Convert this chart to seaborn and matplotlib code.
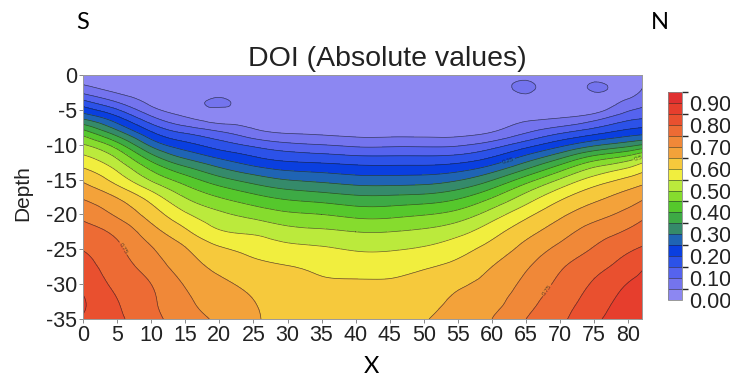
import numpy as np
import matplotlib
matplotlib.use("Agg")
import matplotlib.pyplot as plt
import matplotlib.tri as mtri
from matplotlib.colors import ListedColormap, BoundaryNorm
import seaborn as sns

sns.set_theme(style="white")
plt.rcParams['font.family'] = ['Liberation Sans', 'DejaVu Sans']
plt.rcParams['axes.unicode_minus'] = False

# ---- data -----------------------------------------------------------------
x_positions = [0, 5, 10, 15, 20, 25, 30, 35, 40, 45, 50, 55, 60, 65, 70, 75, 80, 82]
depths = [0, -2, -4, -6, -8, -10, -12, -14, -16, -18, -20, -22.5, -25, -27.5, -30, -32.5, -35]

# DOI values down each column (depth 0 -> -35)
doi_x0 = [0.02, 0.07, 0.172, 0.28, 0.41, 0.503, 0.565, 0.618, 0.663, 0.703, 0.737, 0.769, 0.798, 0.82, 0.838, 0.855, 0.845]
doi_x5 = [0.02, 0.035, 0.105, 0.205, 0.306, 0.42, 0.50, 0.555, 0.606, 0.658, 0.692, 0.737, 0.76, 0.774, 0.789, 0.802, 0.81]
doi_x10 = [0.01, 0.02, 0.04, 0.105, 0.195, 0.286, 0.382, 0.46, 0.528, 0.589, 0.628, 0.671, 0.705, 0.727, 0.75, 0.758, 0.765]
doi_x15 = [0.01, 0.015, 0.025, 0.05, 0.133, 0.217, 0.30, 0.387, 0.456, 0.51, 0.558, 0.61, 0.654, 0.675, 0.696, 0.711, 0.725]
doi_x20 = [0.01, 0.015, 0.058, 0.03, 0.096, 0.173, 0.25, 0.329, 0.403, 0.462, 0.511, 0.556, 0.608, 0.638, 0.66, 0.675, 0.69]
doi_x25 = [0.01, 0.012, 0.02, 0.03, 0.058, 0.138, 0.211, 0.288, 0.364, 0.429, 0.484, 0.541, 0.585, 0.614, 0.637, 0.651, 0.656]
doi_x30 = [0.01, 0.01, 0.015, 0.025, 0.04, 0.112, 0.186, 0.261, 0.335, 0.403, 0.46, 0.519, 0.566, 0.602, 0.617, 0.627, 0.635]
doi_x35 = [0.01, 0.01, 0.012, 0.02, 0.035, 0.10, 0.177, 0.25, 0.321, 0.39, 0.45, 0.51, 0.557, 0.59, 0.605, 0.615, 0.625]
doi_x40 = [0.01, 0.01, 0.012, 0.018, 0.03, 0.088, 0.167, 0.238, 0.307, 0.375, 0.435, 0.50, 0.546, 0.583, 0.604, 0.612, 0.62]
doi_x45 = [0.01, 0.01, 0.012, 0.018, 0.03, 0.088, 0.165, 0.236, 0.305, 0.375, 0.435, 0.50, 0.546, 0.583, 0.605, 0.615, 0.625]
doi_x50 = [0.01, 0.01, 0.012, 0.02, 0.03, 0.088, 0.165, 0.238, 0.31, 0.383, 0.447, 0.51, 0.557, 0.595, 0.617, 0.632, 0.645]
doi_x55 = [0.01, 0.01, 0.012, 0.02, 0.03, 0.092, 0.173, 0.254, 0.333, 0.407, 0.47, 0.534, 0.582, 0.615, 0.643, 0.659, 0.675]
doi_x60 = [0.01, 0.01, 0.015, 0.025, 0.045, 0.123, 0.209, 0.30, 0.388, 0.463, 0.524, 0.581, 0.62, 0.65, 0.667, 0.683, 0.70]
doi_x65 = [0.02, 0.06, 0.025, 0.035, 0.088, 0.177, 0.275, 0.375, 0.468, 0.534, 0.586, 0.633, 0.667, 0.694, 0.714, 0.732, 0.75]
doi_x70 = [0.01, 0.015, 0.025, 0.045, 0.13, 0.233, 0.35, 0.459, 0.542, 0.60, 0.64, 0.679, 0.714, 0.744, 0.761, 0.776, 0.79]
doi_x75 = [0.01, 0.056, 0.025, 0.072, 0.17, 0.288, 0.43, 0.533, 0.60, 0.645, 0.68, 0.724, 0.755, 0.783, 0.807, 0.825, 0.84]
doi_x80 = [0.01, 0.028, 0.065, 0.129, 0.21, 0.329, 0.48, 0.578, 0.639, 0.681, 0.717, 0.757, 0.793, 0.825, 0.852, 0.865, 0.875]
doi_x82 = [0.02, 0.05, 0.086, 0.14, 0.22, 0.35, 0.515, 0.60, 0.655, 0.70, 0.736, 0.773, 0.806, 0.844, 0.862, 0.875, 0.885]

x_ticks = list(range(0, 81, 5))
y_ticks = list(range(-35, 1, 5))
cbar_ticks = [0.0, 0.1, 0.2, 0.3, 0.4, 0.5, 0.6, 0.7, 0.8, 0.9]

band_colors = ['#8C87F2', '#7474EE', '#5563EE', '#2C52E8', '#0A3FE0', '#1F64B4',
               '#358A6A', '#3DAA45', '#55C82C', '#86DC2E', '#BBEA3C', '#F1EE3E',
               '#F6C93C', '#F3A23A', '#F08838', '#ED6B34', '#E9502F', '#E63E2D', '#E03030']

# ---- build field -------------------------------------------------------------
columns = [doi_x0, doi_x5, doi_x10, doi_x15, doi_x20, doi_x25, doi_x30, doi_x35, doi_x40,
           doi_x45, doi_x50, doi_x55, doi_x60, doi_x65, doi_x70, doi_x75, doi_x80, doi_x82]
Z = np.array(columns).T
X, Y = np.meshgrid(x_positions, depths)
tri = mtri.Triangulation(X.ravel(), Y.ravel())
refiner = mtri.UniformTriRefiner(tri)
tri_f, z_f = refiner.refine_field(Z.ravel(), subdiv=3)
z_f = np.clip(z_f, 0.001, 0.949)

levels = np.round(np.arange(0, 0.951, 0.05), 2)
cmap = ListedColormap(band_colors)
norm = BoundaryNorm(levels, cmap.N)

fig = plt.figure(figsize=(7.3, 3.81), dpi=100)
ax = fig.add_axes([83 / 730, 1 - 319 / 381, 559 / 730, 244 / 381])

cf = ax.tricontourf(tri_f, z_f, levels=levels, cmap=cmap, norm=norm)
cs = ax.tricontour(tri_f, z_f, levels=levels[1:-1], colors='#222222', linewidths=0.5, alpha=0.7)
ax.clabel(cs, levels=[levels[5], levels[10], levels[15]], fontsize=4.5,
          fmt=lambda v: f"{v:g}", inline=True, inline_spacing=1)

ax.set_xlim(0, 82)
ax.set_ylim(-35, 0)
ax.set_xticks(x_ticks)
ax.set_yticks(y_ticks)
ax.tick_params(axis='both', which='major', direction='out', length=3, width=0.6,
               color='#777777', labelsize=15.5, pad=1, bottom=True, left=True, labelcolor='#222222')
for sp in ax.spines.values():
    sp.set_color('#999999')
    sp.set_linewidth(0.7)

secx = ax.secondary_xaxis('top')
secx.set_xticks(x_ticks)
secx.set_xticklabels([])
secx.tick_params(direction='in', length=3, width=0.6, color='#777777', top=True)
secx.spines['top'].set_visible(False)
secy = ax.secondary_yaxis('right')
secy.set_yticks(y_ticks)
secy.set_yticklabels([])
secy.tick_params(direction='in', length=3, width=0.6, color='#777777', right=True)
secy.spines['right'].set_visible(False)

# colorbar
cax = fig.add_axes([668 / 730, 1 - 300 / 381, 14 / 730, 208 / 381])
cb = fig.colorbar(cf, cax=cax, ticks=cbar_ticks, format='%.2f')
cb.add_lines(cs)
cb.ax.tick_params(length=0, labelsize=15.5, pad=5, labelcolor='#222222')
cb.outline.set_linewidth(0.6)
cb.outline.set_edgecolor('#888888')

# texts
fig.text(387 / 730, 1 - 66 / 381, 'DOI (Absolute values)', ha='center', va='baseline',
         fontsize=20.5, color='#222222')
fig.text(23 / 730, 1 - 193 / 381, 'Depth', rotation=90, ha='center', va='center',
         fontsize=15, color='#222222')
fig.text(83 / 730, 1 - 29 / 381, 'S', ha='center', va='baseline', fontsize=17,
         family=['Lato', 'DejaVu Sans'], color='black')
fig.text(660 / 730, 1 - 29 / 381, 'N', ha='center', va='baseline', fontsize=17,
         family=['Lato', 'DejaVu Sans'], color='black')
fig.text(371 / 730, 1 - 373 / 381, 'X', ha='center', va='baseline', fontsize=17,
         family=['Lato', 'DejaVu Sans'], color='black')

fig.savefig('out.png', dpi=100)
